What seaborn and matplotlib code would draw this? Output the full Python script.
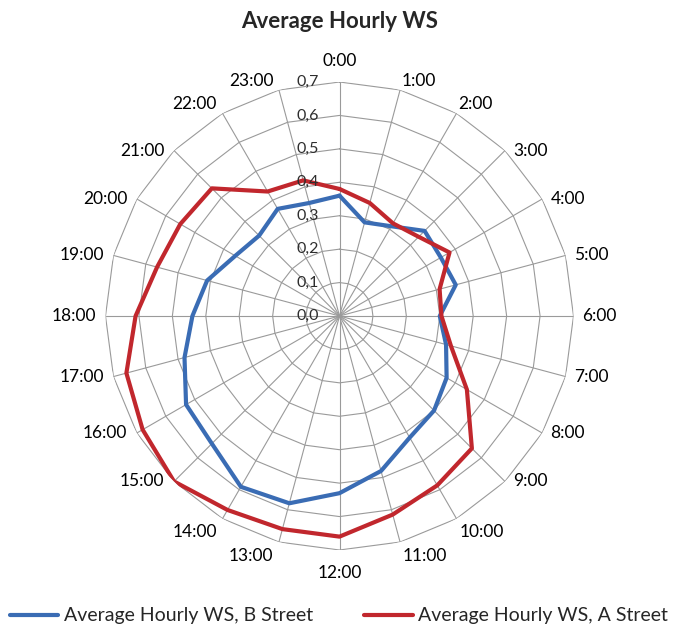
import numpy as np
import pandas as pd
import matplotlib
matplotlib.use('Agg')
import matplotlib.pyplot as plt
import seaborn as sns

# --- dados ---
horas = [f'{h}:00' for h in range(24)]
ws_b_street = [0.36, 0.29, 0.31, 0.36, 0.35, 0.36, 0.30, 0.33,
               0.37, 0.40, 0.42, 0.48, 0.53, 0.58, 0.59, 0.54,
               0.53, 0.48, 0.44, 0.41, 0.36, 0.34, 0.37, 0.35]
ws_a_street = [0.38, 0.35, 0.32, 0.335, 0.38, 0.31, 0.305, 0.345,
               0.44, 0.56, 0.585, 0.615, 0.66, 0.66, 0.67, 0.70,
               0.68, 0.66, 0.61, 0.565, 0.55, 0.54, 0.43, 0.42]
raios = [0.0, 0.1, 0.2, 0.3, 0.4, 0.5, 0.6, 0.7]
raios_labels = ['0,0', '0,1', '0,2', '0,3', '0,4', '0,5', '0,6', '0,7']
series = ['Average Hourly WS, B Street', 'Average Hourly WS, A Street']
cores = ['#3a6cb4', '#c1272d']

sns.set_theme(style='white')
plt.rcParams['font.family'] = ['Lato', 'DejaVu Sans']

# angulos (fechando o poligono)
theta = np.deg2rad(np.arange(24) * 15.0)
theta_fechado = np.append(theta, 2 * np.pi)

linhas = []
for nome, valores in zip(series, [ws_b_street, ws_a_street]):
    v = list(valores) + [valores[0]]
    for i, (t, y) in enumerate(zip(theta_fechado, v)):
        linhas.append({'theta': t, 'ws': y, 'serie': nome, 'ordem': i})
df = pd.DataFrame(linhas)

W, H = 678, 631
fig = plt.figure(figsize=(W / 100, H / 100), dpi=100)
cx, cy, R = 339.5, 316, 234
ax = fig.add_axes([(cx - R) / W, (H - cy - R) / H, 2 * R / W, 2 * R / H], projection='polar')
ax.set_theta_zero_location('N')
ax.set_theta_direction(-1)
ax.set_ylim(0, 0.7)
ax.grid(False)
ax.set_xticks([])
ax.set_yticks([])
ax.spines['polar'].set_visible(False)

# grade poligonal estilo Excel
cor_grade = '#9a9a9a'
for r in raios[1:]:
    ax.plot(theta_fechado, [r] * len(theta_fechado), color=cor_grade, lw=0.8, zorder=1)
for t in theta:
    ax.plot([t, t], [0, 0.7], color=cor_grade, lw=0.8, zorder=1)

sns.lineplot(data=df, x='theta', y='ws', hue='serie', hue_order=series,
             palette=cores, sort=False, estimator=None, lw=3, ax=ax, zorder=3)
ax.set_xlabel('')
ax.set_ylabel('')

# rotulos radiais
for r, lab in zip(raios, raios_labels):
    ax.annotate(lab, xy=(0, r), xytext=(-15, 0), textcoords='offset points',
                ha='right', va='center', fontsize=11.5, color='#2e2e2e',
                annotation_clip=False)

# rotulos das horas
for h, lab in enumerate(horas):
    ang = h * 15
    if ang == 0:
        ha, va, off = 'center', 'bottom', (0, 9)
    elif ang == 180:
        ha, va, off = 'center', 'top', (0, -11)
    elif ang in (15, 30):
        ha, va, off = 'left', 'bottom', (1, 1)
    elif ang in (330, 345):
        ha, va, off = 'right', 'bottom', (-4, 1)
    elif ang in (150, 165):
        ha, va, off = 'left', 'top', (2, -4)
    elif ang in (195, 210):
        ha, va, off = 'right', 'top', (-4, -4)
    elif ang < 180:
        ha, va, off = 'left', 'center', (6, 0)
    else:
        ha, va, off = 'right', 'center', (-7, 0)
    ax.annotate(lab, xy=(np.deg2rad(ang), 0.7), xytext=off, textcoords='offset points',
                ha=ha, va=va, fontsize=12.5, color='black', annotation_clip=False)

fig.text(cx / W, 1 - 22 / H, 'Average Hourly WS', ha='center', va='center',
         fontsize=16, fontweight='bold')

sns.move_legend(ax, 'center', bbox_to_anchor=(0.5, 1 - 616 / H), bbox_transform=fig.transFigure,
                ncol=2, title=None, frameon=False, fontsize=14,
                handlelength=2.5, handletextpad=0.3, columnspacing=2.6)
for linha in ax.get_legend().get_lines():
    linha.set_linewidth(3)

fig.savefig('out.png', dpi=100)
